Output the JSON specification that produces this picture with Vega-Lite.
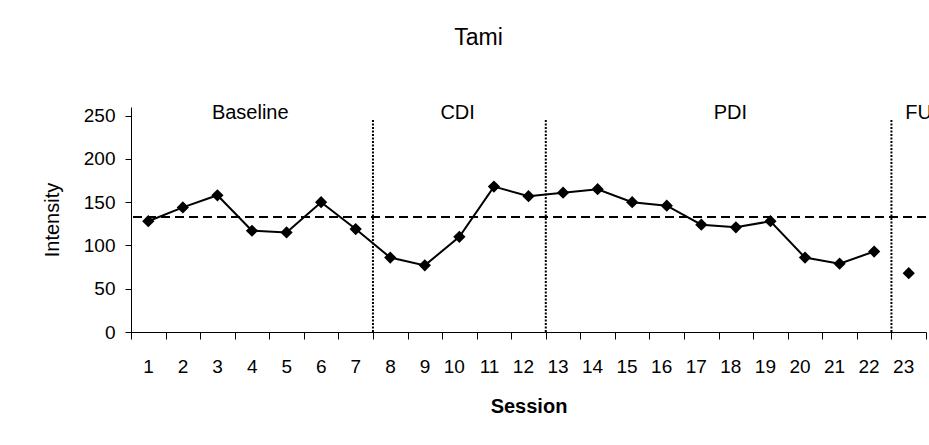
{
  "$schema": "https://vega.github.io/schema/vega-lite/v6.json",
  "width": 795,
  "height": 225,
  "autosize": {"type": "none"},
  "padding": {"left": 131, "top": 107, "right": 3, "bottom": 113},
  "background": "white",
  "config": {
    "font": "Liberation Sans",
    "view": {"stroke": null},
    "axis": {
      "grid": false,
      "domainColor": "#000",
      "tickColor": "#000",
      "labelColor": "#000",
      "titleColor": "#000",
      "labelFont": "Liberation Sans",
      "titleFont": "Liberation Sans"
    }
  },
  "title": {
    "text": "Tami",
    "fontSize": 23,
    "fontWeight": "normal",
    "font": "Liberation Sans",
    "color": "#000",
    "dx": -50,
    "frame": "group",
    "baseline": "alphabetic",
    "offset": 35
  },
  "datasets": {
    "sessions": [
      {"session": 1, "intensity": 128, "segment": "A"},
      {"session": 2, "intensity": 144, "segment": "A"},
      {"session": 3, "intensity": 158, "segment": "A"},
      {"session": 4, "intensity": 117, "segment": "A"},
      {"session": 5, "intensity": 115, "segment": "A"},
      {"session": 6, "intensity": 150, "segment": "A"},
      {"session": 7, "intensity": 119, "segment": "A"},
      {"session": 8, "intensity": 86, "segment": "A"},
      {"session": 9, "intensity": 77, "segment": "A"},
      {"session": 10, "intensity": 110, "segment": "A"},
      {"session": 11, "intensity": 168, "segment": "A"},
      {"session": 12, "intensity": 157, "segment": "A"},
      {"session": 13, "intensity": 161, "segment": "A"},
      {"session": 14, "intensity": 165, "segment": "A"},
      {"session": 15, "intensity": 150, "segment": "A"},
      {"session": 16, "intensity": 146, "segment": "A"},
      {"session": 17, "intensity": 124, "segment": "A"},
      {"session": 18, "intensity": 121, "segment": "A"},
      {"session": 19, "intensity": 128, "segment": "A"},
      {"session": 20, "intensity": 86, "segment": "A"},
      {"session": 21, "intensity": 79, "segment": "A"},
      {"session": 22, "intensity": 93, "segment": "A"},
      {"session": 23, "intensity": 68, "segment": "B"}
    ]
  },
  "layer": [
    {
      "data": {"values": [{"baselineMean": 133}]},
      "mark": {"type": "rule", "strokeDash": [9, 5], "strokeWidth": 2, "color": "#000"},
      "encoding": {
        "y": {"field": "baselineMean", "type": "quantitative", "scale": {"domain": [0, 250]}}
      }
    },
    {
      "data": {"values": [{"session": 8}, {"session": 13}, {"session": 23}]},
      "mark": {"type": "rule", "strokeDash": [2, 1.5], "strokeWidth": 2, "color": "#000"},
      "encoding": {
        "x": {"field": "session", "type": "ordinal", "bandPosition": 0},
        "y": {"datum": 0, "type": "quantitative"},
        "y2": {"datum": 246}
      }
    },
    {
      "data": {"name": "sessions"},
      "mark": {"type": "line", "color": "#000", "strokeWidth": 2},
      "encoding": {
        "x": {
          "field": "session",
          "type": "ordinal",
          "bandPosition": 0.5,
          "scale": {
            "type": "band",
            "domain": [1, 2, 3, 4, 5, 6, 7, 8, 9, 10, 11, 12, 13, 14, 15, 16, 17, 18, 19, 20, 21, 22, 23],
            "paddingInner": 0,
            "paddingOuter": 0
          },
          "axis": {
            "title": "Session",
            "titleFontSize": 20,
            "titleFontWeight": "bold",
            "titlePadding": 20,
            "labelAngle": 0,
            "labelFontSize": 19,
            "labelPadding": 27,
            "labelOffset": 5,
            "tickSize": 7,
            "tickBand": "extent"
          }
        },
        "y": {
          "field": "intensity",
          "type": "quantitative",
          "scale": {"domain": [0, 250]},
          "axis": {
            "title": "Intensity",
            "titleFontSize": 20,
            "titleFontWeight": "normal",
            "titlePadding": 21,
            "values": [0, 50, 100, 150, 200, 250],
            "labelFontSize": 19,
            "labelPadding": 10,
            "tickSize": 6
          }
        },
        "detail": {"field": "segment"}
      }
    },
    {
      "data": {"name": "sessions"},
      "mark": {"type": "point", "shape": "diamond", "filled": true, "size": 150, "color": "#000", "opacity": 1},
      "encoding": {
        "x": {"field": "session", "type": "ordinal", "bandPosition": 0.5},
        "y": {"field": "intensity", "type": "quantitative"}
      }
    },
    {
      "data": {"values": [{"session": 4, "phase": "Baseline"}, {"session": 10, "phase": "CDI"}]},
      "mark": {"type": "text", "fontSize": 20, "baseline": "alphabetic", "align": "center", "color": "#000"},
      "encoding": {
        "x": {"field": "session", "type": "ordinal", "bandPosition": 0.45},
        "y": {"datum": 246, "type": "quantitative"},
        "text": {"field": "phase"}
      }
    },
    {
      "data": {"values": [{"session": 18, "phase": "PDI"}]},
      "mark": {"type": "text", "fontSize": 20, "baseline": "alphabetic", "align": "center", "color": "#000"},
      "encoding": {
        "x": {"field": "session", "type": "ordinal", "bandPosition": 0.34},
        "y": {"datum": 246, "type": "quantitative"},
        "text": {"field": "phase"}
      }
    },
    {
      "data": {"values": [{"session": 23, "phase": "FU"}]},
      "mark": {"type": "text", "fontSize": 20, "baseline": "alphabetic", "align": "left", "color": "#000"},
      "encoding": {
        "x": {"field": "session", "type": "ordinal", "bandPosition": 0.4},
        "y": {"datum": 246, "type": "quantitative"},
        "text": {"field": "phase"}
      }
    }
  ]
}
